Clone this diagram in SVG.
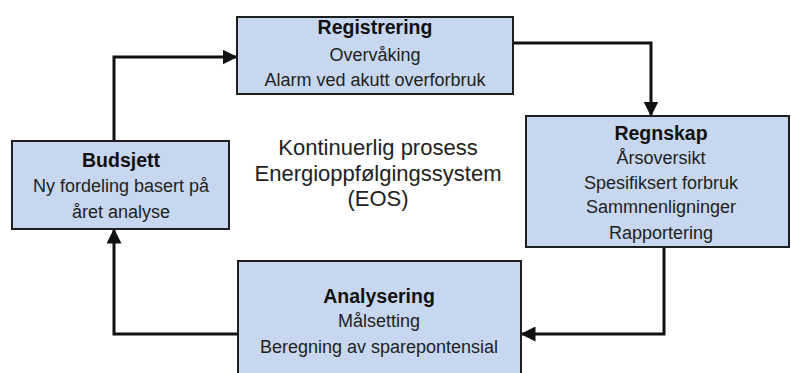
<svg xmlns="http://www.w3.org/2000/svg" width="791" height="373" viewBox="0 0 791 373">
<defs>
<style>
.box{fill:#c6d7ef;stroke:#1e1e1e;stroke-width:2}
.t{font-family:"Liberation Sans",Arial,sans-serif;font-size:18px;fill:#222;text-anchor:middle}
.h{font-weight:bold;font-size:19.5px;fill:#111}
.c{font-family:"Liberation Sans",Arial,sans-serif;font-size:22px;fill:#222;text-anchor:middle}
.con{fill:none;stroke:#111;stroke-width:3;marker-end:url(#ah)}
</style>
<marker id="ah" viewBox="0 0 10 10" refX="9" refY="5" markerWidth="5" markerHeight="5" orient="auto" markerUnits="strokeWidth">
<path d="M0,0 L10,5 L0,10 z" fill="#111"/>
</marker>
</defs>
<rect width="791" height="373" fill="#fff"/>
<g id="connectors">
<path class="con" d="M114,141 V57 H236"/>
<path class="con" d="M513,43 H651 V115"/>
<path class="con" d="M664,247 V334 H522"/>
<path class="con" d="M238,334 H114 V230"/>
</g>
<g id="registrering">
<rect class="box" x="237" y="17" width="276" height="77"/>
<text class="t h" x="375" y="34">Registrering</text>
<text class="t" x="375" y="61">Overvåking</text>
<text class="t" x="375" y="86">Alarm ved akutt overforbruk</text>
</g>
<g id="regnskap">
<rect class="box" x="526" y="116" width="263" height="131"/>
<text class="t h" x="661" y="140">Regnskap</text>
<text class="t" x="661" y="164">Årsoversikt</text>
<text class="t" x="661" y="189">Spesifiksert forbruk</text>
<text class="t" x="661" y="213">Sammnenligninger</text>
<text class="t" x="661" y="239">Rapportering</text>
</g>
<g id="budsjett">
<rect class="box" x="12" y="141" width="217" height="88"/>
<text class="t h" x="121" y="167">Budsjett</text>
<text class="t" x="121" y="192">Ny fordeling basert på</text>
<text class="t" x="121" y="218">året analyse</text>
</g>
<g id="analysering">
<rect class="box" x="238" y="261" width="283" height="125"/>
<text class="t h" x="379" y="303">Analysering</text>
<text class="t" x="379" y="327">Målsetting</text>
<text class="t" x="379" y="353">Beregning av sparepontensial</text>
</g>
<g id="center">
<text class="c" x="378" y="155">Kontinuerlig prosess</text>
<text class="c" x="378" y="181">Energioppfølgingssystem</text>
<text class="c" x="378" y="206">(EOS)</text>
</g>
</svg>
